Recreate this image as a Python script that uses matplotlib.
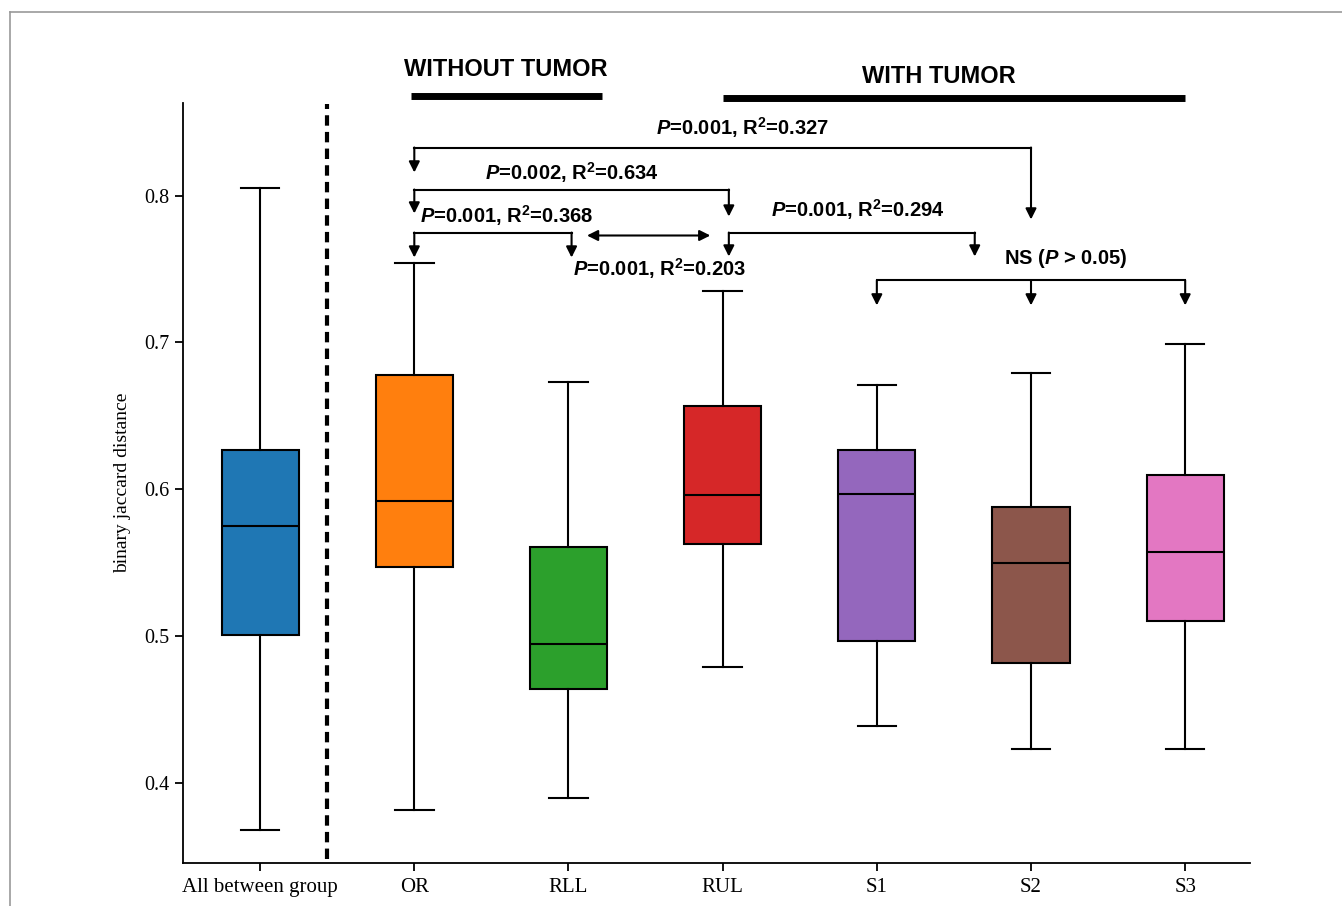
import matplotlib
matplotlib.use("Agg")
import matplotlib.pyplot as plt
from matplotlib.lines import Line2D

# box statistics
groups = ["All between group", "OR", "RLL", "RUL", "S1", "S2", "S3"]
whishi = [0.805, 0.754, 0.673, 0.735, 0.671, 0.679, 0.699]
q3 = [0.627, 0.678, 0.561, 0.657, 0.627, 0.588, 0.610]
med = [0.575, 0.592, 0.495, 0.596, 0.597, 0.550, 0.557]
q1 = [0.501, 0.547, 0.464, 0.563, 0.497, 0.482, 0.510]
whislo = [0.368, 0.382, 0.390, 0.479, 0.439, 0.423, 0.423]
colors = ["#1f77b4", "#ff7f0e", "#2ca02c", "#d62728", "#9467bd", "#8c564b", "#e377c2"]

plt.rcParams['mathtext.fontset'] = 'custom'
plt.rcParams['mathtext.rm'] = 'Liberation Sans:bold'
plt.rcParams['mathtext.it'] = 'Liberation Sans:bold:italic'
plt.rcParams['mathtext.bf'] = 'Liberation Sans:bold'

fig = plt.figure(figsize=(13.42, 9.06), dpi=100)
ax = fig.add_axes([0.1364, 0.0475, 0.795, 0.8388])

# thin grey frame on top and left like the source image
fig.add_artist(Line2D([0.0071, 1.0], [0.9873, 0.9873], color='#999999', lw=1.2))
fig.add_artist(Line2D([0.0071, 0.0071], [0.0, 0.9873], color='#999999', lw=1.2))

stats = []
for i in range(len(groups)):
    stats.append(dict(med=med[i], q1=q1[i], q3=q3[i], whislo=whislo[i], whishi=whishi[i], fliers=[]))

bp = ax.bxp(stats, positions=range(len(groups)), widths=0.5, patch_artist=True,
            boxprops=dict(edgecolor='black', linewidth=1.5),
            medianprops=dict(color='black', linewidth=1.5),
            whiskerprops=dict(color='black', linewidth=1.5),
            capprops=dict(color='black', linewidth=1.5))
for patch, c in zip(bp['boxes'], colors):
    patch.set_facecolor(c)

ax.set_xlim(-0.5, 6.42)
ax.set_ylim(0.3456, 0.863)
ax.set_yticks([0.4, 0.5, 0.6, 0.7, 0.8])
ax.set_xticks(range(len(groups)))
ax.set_xticklabels(groups, family='Liberation Serif', fontsize=15)
for lab in ax.get_yticklabels():
    lab.set_family('Liberation Serif')
    lab.set_fontsize(14.5)
ax.tick_params(direction='out', length=6, width=1.3)
ax.tick_params(axis='x', pad=5)
ax.spines['top'].set_visible(False)
ax.spines['right'].set_visible(False)
ax.spines['left'].set_linewidth(1.3)
ax.spines['bottom'].set_linewidth(1.3)
ax.set_ylabel("binary jaccard distance", family='Liberation Serif', fontsize=14, labelpad=10)

# separator between pooled and per-site groups
ax.plot([0.434, 0.434], [0.3485, 0.862], color='black', lw=3, ls=(0, (2.5, 1.5)))

# group headers above the plot
tkw = dict(family='Liberation Sans', fontweight='bold', ha='center', va='center', clip_on=False)
ax.text(1.59, 0.8855, "WITHOUT TUMOR", fontsize=17, **tkw)
ax.plot([0.98, 2.22], [0.868, 0.868], color='black', lw=5, clip_on=False, solid_capstyle='butt')
ax.text(4.4, 0.881, "WITH TUMOR", fontsize=17, **tkw)
ax.plot([3.0, 6.0], [0.8665, 0.8665], color='black', lw=5, clip_on=False, solid_capstyle='butt')

akw = dict(arrowstyle='-|>', color='black', lw=1.5, mutation_scale=16, shrinkA=0, shrinkB=0)


def bracket(xs, yb, ytips):
    ax.plot([xs[0], xs[-1]], [yb, yb], color='black', lw=1.5, clip_on=False)
    for x, yt in zip(xs, ytips):
        ax.annotate("", xy=(x, yt), xytext=(x, yb), arrowprops=akw, annotation_clip=False)


bracket([1.0, 5.0], 0.8327, [0.8157, 0.7837])
bracket([1.0, 3.04], 0.8041, [0.7878, 0.7857])
bracket([1.0, 2.02], 0.7748, [0.7578, 0.7578])
bracket([3.04, 4.635], 0.7748, [0.7585, 0.7585])
bracket([4.0, 5.0, 6.0], 0.7422, [0.7252, 0.7252, 0.7252])
ax.annotate("", xy=(2.12, 0.7728), xytext=(2.92, 0.7728),
            arrowprops=dict(arrowstyle='<|-|>', color='black', lw=1.5, mutation_scale=16,
                            shrinkA=0, shrinkB=0))

skw = dict(family='Liberation Sans', fontweight='bold', fontsize=14.5, ha='center', va='center')
ax.text(3.13, 0.8463, r"$P$=0.001, R$^2$=0.327", **skw)
ax.text(2.02, 0.8157, r"$P$=0.002, R$^2$=0.634", **skw)
ax.text(1.60, 0.7865, r"$P$=0.001, R$^2$=0.368", **skw)
ax.text(2.59, 0.7504, r"$P$=0.001, R$^2$=0.203", **skw)
ax.text(3.875, 0.7906, r"$P$=0.001, R$^2$=0.294", **skw)
ax.text(5.225, 0.7572, r"NS ($P$ > 0.05)", **skw)

fig.savefig("out.png", dpi=100)
